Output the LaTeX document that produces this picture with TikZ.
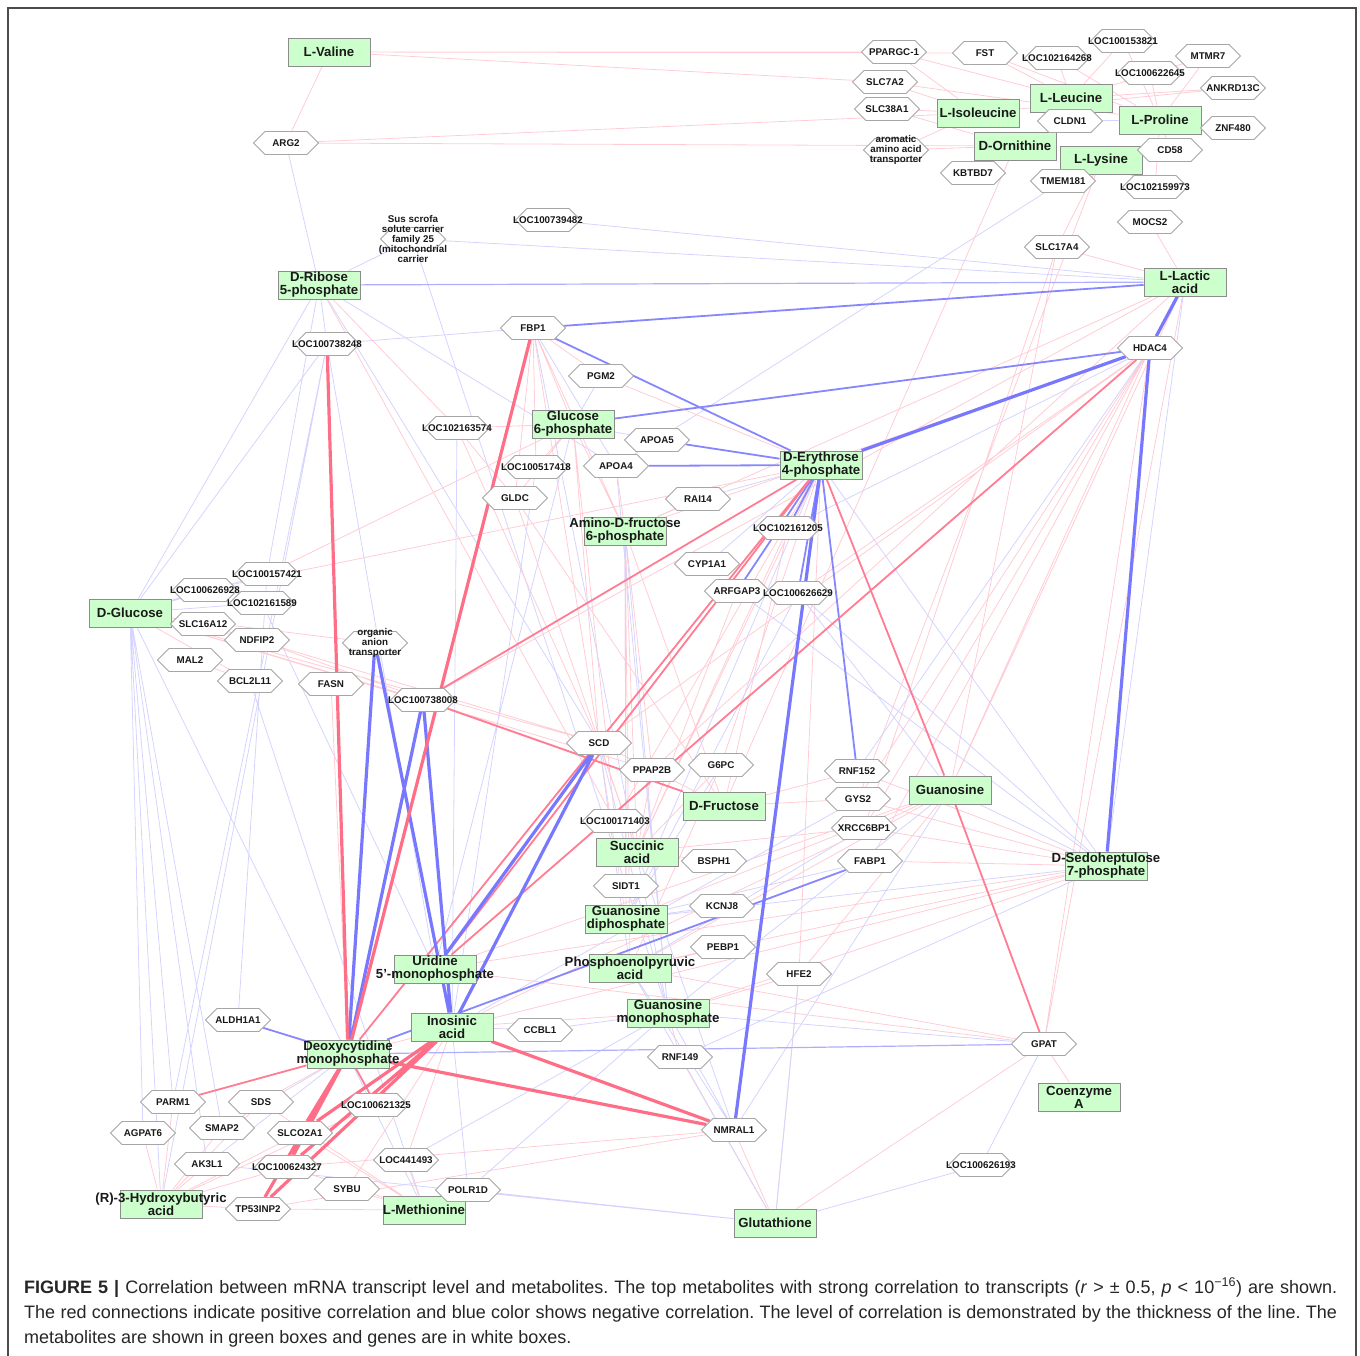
\documentclass[tikz,border=0pt]{standalone}
\usepackage{fontspec}
\setmainfont{Liberation Sans}
\usetikzlibrary{shapes.symbols,backgrounds}
\frenchspacing

\definecolor{posline}{RGB}{255,110,135}
\definecolor{negline}{RGB}{120,120,255}
\definecolor{metfill}{RGB}{204,255,204}

\tikzset{
  met/.style={draw=black!45, fill=metfill, line width=.9pt, minimum width=82pt, minimum height=28pt, inner sep=0pt, label={[mettext]center:#1}},
  mettext/.style={align=center, font=\fontsize{13.2}{13}\selectfont\bfseries, text=black!90, inner sep=0pt},
  gene/.style={signal, signal to=east and west, draw=black!35, fill=white, line width=.8pt, minimum width=65pt, minimum height=23pt, inner sep=0pt, label={[genetext]center:#1}},
  genetext/.style={align=center, font=\fontsize{9.8}{10}\selectfont\bfseries, text=black!90, inner sep=0pt},
  pos1/.style={posline!35, line width=.8pt},
  pos2/.style={posline!90, line width=1.8pt},
  pos3/.style={posline, line width=3.2pt},
  neg1/.style={negline!32, line width=.8pt},
  neg2/.style={negline!90, line width=1.8pt},
  neg3/.style={negline, line width=3.2pt},
  capline/.style={anchor=base west, inner sep=0pt, text=black!85, font=\fontsize{18}{20}\selectfont}
}

\begin{document}
\begin{tikzpicture}[x=1pt,y=-1pt]
\useasboundingbox (0,0) rectangle (1360,1355);
\draw[black!70, line width=1.3pt] (8,1370) -- (8,8) -- (1356,8) -- (1356,1370);

% metabolites
\node[met={L-Valine}] (val) at (329,52) {};
\node[met={L-Isoleucine}] (ile) at (978,113) {};
\node[met={L-Leucine}] (leu) at (1071,98) {};
\node[met={L-Proline}] (pro) at (1160,120) {};
\node[met={D-Ornithine}] (orn) at (1015,146) {};
\node[met={L-Lysine}] (lys) at (1101,160) {};
\node[met={L-Lactic\\acid}] (lac) at (1185,282) {};
\node[met={D-Ribose\\5-phosphate}] (r5p) at (319,285) {};
\node[met={Glucose\\6-phosphate}] (g6p) at (573,424) {};
\node[met={D-Erythrose\\4-phosphate}] (e4p) at (821,465) {};
\node[met={Amino-D-fructose\\6-phosphate}] (af6p) at (625,531) {};
\node[met={D-Glucose}] (glc) at (130,613) {};
\node[met={D-Fructose}] (fru) at (724,806) {};
\node[met={Guanosine}] (guo) at (950,790) {};
\node[met={Succinic\\acid}] (suc) at (637,852) {};
\node[met={D-Sedoheptulose\\7-phosphate}] (s7p) at (1106,866) {};
\node[met={Guanosine\\diphosphate}] (gdp) at (626,919) {};
\node[met={Uridine\\5'-monophosphate}] (ump) at (435,969) {};
\node[met={Phosphoenolpyruvic\\acid}] (pep) at (630,968) {};
\node[met={Guanosine\\monophosphate}] (gmp) at (668,1013) {};
\node[met={Inosinic\\acid}] (imp) at (452,1027) {};
\node[met={Deoxycytidine\\monophosphate}] (dcmp) at (348,1054) {};
\node[met={Coenzyme\\A}] (coa) at (1079,1097) {};
\node[met={(R)-3-Hydroxybutyric\\acid}] (hba) at (161,1204) {};
\node[met={L-Methionine}] (met) at (424,1210) {};
\node[met={Glutathione}] (gsh) at (775,1223) {};

% genes
\node[gene={PPARGC-1}] (ppargc) at (894,52) {};
\node[gene={FST}] (fst) at (985,53) {};
\node[gene={LOC102164268}] (loc268) at (1057,58) {};
\node[gene={LOC100153821}] (loc821) at (1123,41) {};
\node[gene={MTMR7}] (mtmr7) at (1208,56) {};
\node[gene={LOC100622645}] (loc645) at (1150,73) {};
\node[gene={SLC7A2}] (slc7a2) at (885,82) {};
\node[gene={ANKRD13C}] (ankrd) at (1233,88) {};
\node[gene={SLC38A1}] (slc38a1) at (887,109) {};
\node[gene={CLDN1}] (cldn1) at (1070,121) {};
\node[gene={ZNF480}] (znf480) at (1233,128) {};
\node[gene={aromatic\\amino acid\\transporter}] (aat) at (896,150) {};
\node[gene={CD58}] (cd58) at (1170,150) {};
\node[gene={KBTBD7}] (kbtbd7) at (973,173) {};
\node[gene={TMEM181}] (tmem181) at (1063,181) {};
\node[gene={LOC102159973}] (loc973) at (1155,187) {};
\node[gene={MOCS2}] (mocs2) at (1150,222) {};
\node[gene={SLC17A4}] (slc17a4) at (1057,247) {};
\node[gene={ARG2}] (arg2) at (286,143) {};
\node[gene={Sus scrofa\\solute carrier\\family 25\\(mitochondrial\\carrier}] (sus) at (413,239) {};
\node[gene={LOC100739482}] (loc482) at (548,220) {};
\node[gene={HDAC4}] (hdac4) at (1150,348) {};
\node[gene={FBP1}] (fbp1) at (533,328) {};
\node[gene={LOC100738248}] (loc248) at (327,344) {};
\node[gene={PGM2}] (pgm2) at (601,376) {};
\node[gene={LOC102163574}] (loc574) at (457,428) {};
\node[gene={APOA5}] (apoa5) at (657,440) {};
\node[gene={APOA4}] (apoa4) at (616,466) {};
\node[gene={LOC100517418}] (loc418) at (536,467) {};
\node[gene={GLDC}] (gldc) at (515,498) {};
\node[gene={RAI14}] (rai14) at (698,499) {};
\node[gene={LOC102161205}] (loc205) at (788,528) {};
\node[gene={CYP1A1}] (cyp1a1) at (707,564) {};
\node[gene={ARFGAP3}] (arfgap3) at (737,591) {};
\node[gene={LOC100626629}] (loc629) at (798,593) {};
\node[gene={LOC100157421}] (loc421) at (267,574) {};
\node[gene={LOC100626928}] (loc928) at (205,590) {};
\node[gene={LOC102161589}] (loc589) at (262,603) {};
\node[gene={SLC16A12}] (slc16a12) at (203,624) {};
\node[gene={NDFIP2}] (ndfip2) at (257,640) {};
\node[gene={MAL2}] (mal2) at (190,660) {};
\node[gene={BCL2L11}] (bcl2l11) at (250,681) {};
\node[gene={organic\\anion\\transporter}] (oat) at (375,643) {};
\node[gene={FASN}] (fasn) at (331,684) {};
\node[gene={LOC100738008}] (loc008) at (423,700) {};
\node[gene={SCD}] (scd) at (599,743) {};
\node[gene={PPAP2B}] (ppap2b) at (652,770) {};
\node[gene={G6PC}] (g6pc) at (721,765) {};
\node[gene={RNF152}] (rnf152) at (857,771) {};
\node[gene={GYS2}] (gys2) at (858,799) {};
\node[gene={XRCC6BP1}] (xrcc) at (864,828) {};
\node[gene={LOC100171403}] (loc403) at (615,821) {};
\node[gene={BSPH1}] (bsph1) at (714,861) {};
\node[gene={FABP1}] (fabp1) at (870,861) {};
\node[gene={SIDT1}] (sidt1) at (626,886) {};
\node[gene={KCNJ8}] (kcnj8) at (722,906) {};
\node[gene={PEBP1}] (pebp1) at (723,947) {};
\node[gene={HFE2}] (hfe2) at (799,974) {};
\node[gene={ALDH1A1}] (aldh1a1) at (238,1020) {};
\node[gene={CCBL1}] (ccbl1) at (540,1030) {};
\node[gene={GPAT}] (gpat) at (1044,1044) {};
\node[gene={RNF149}] (rnf149) at (680,1057) {};
\node[gene={PARM1}] (parm1) at (173,1102) {};
\node[gene={SDS}] (sds) at (261,1102) {};
\node[gene={LOC100621325}] (loc325) at (376,1105) {};
\node[gene={AGPAT6}] (agpat6) at (143,1133) {};
\node[gene={SMAP2}] (smap2) at (222,1128) {};
\node[gene={SLCO2A1}] (slco2a1) at (300,1133) {};
\node[gene={NMRAL1}] (nmral1) at (734,1130) {};
\node[gene={AK3L1}] (ak3l1) at (207,1164) {};
\node[gene={LOC441493}] (loc493) at (406,1160) {};
\node[gene={LOC100624327}] (loc327) at (287,1167) {};
\node[gene={LOC100626193}] (loc193) at (981,1165) {};
\node[gene={SYBU}] (sybu) at (347,1189) {};
\node[gene={POLR1D}] (polr1d) at (468,1190) {};
\node[gene={TP53INP2}] (tp53inp2) at (258,1209) {};

% correlations
\begin{scope}[on background layer]
% weak
\draw[pos1] (val)--(ppargc) (val)--(fst) (val)--(slc7a2) (val)--(arg2) (arg2)--(orn) (arg2)--(ile) (aat)--(orn) (aat)--(ile)
  (ppargc)--(ile) (ppargc)--(leu) (slc7a2)--(ile) (slc7a2)--(pro) (slc38a1)--(ile) (slc38a1)--(orn) (fst)--(leu) (fst)--(pro)
  (loc268)--(pro) (loc268)--(leu) (loc821)--(pro) (loc821)--(leu) (mtmr7)--(pro) (mtmr7)--(leu) (loc645)--(pro) (ankrd)--(leu)
  (ankrd)--(ile) (znf480)--(pro) (cd58)--(pro) (kbtbd7)--(orn) (tmem181)--(lys) (loc973)--(lys) (loc973)--(pro) (mocs2)--(lac)
  (slc17a4)--(lac) (slc17a4)--(lys) (orn)--(fru) (lys)--(gys2) (slc17a4)--(xrcc) (slc17a4)--(guo);
\draw[neg1] (cldn1)--(pro) (arg2)--(r5p) (sus)--(r5p) (sus)--(lac) (loc482)--(lac) (tmem181)--(apoa4) (sus)--(gmp) (loc248)--(fbp1);
\draw[pos1] (hdac4)--(guo) (hdac4)--(gys2) (hdac4)--(xrcc) (hdac4)--(gpat) (hdac4)--(fabp1) (hdac4)--(af6p) (hdac4)--(scd)
  (lac)--(gpat) (lac)--(guo) (lac)--(af6p) (lac)--(loc008) (lac)--(ppap2b) (hdac4)--(loc629);
\draw[neg1] (lac)--(s7p) (hdac4)--(rnf152) (hdac4)--(loc205);
\draw[neg1] (glc)--(loc248) (glc)--(r5p) (glc)--(loc421) (glc)--(loc928) (glc)--(loc589) (glc)--(hba) (glc)--(parm1) (glc)--(agpat6)
  (glc)--(ak3l1) (glc)--(smap2) (r5p)--(loc248) (r5p)--(loc421) (r5p)--(scd) (r5p)--(apoa4) (loc248)--(parm1) (loc248)--(hba)
  (loc248)--(ump) (bcl2l11)--(met) (loc421)--(aldh1a1) (loc589)--(ump);
\draw[pos1] (glc)--(oat) (glc)--(loc008) (glc)--(scd) (glc)--(ppap2b) (glc)--(ndfip2) (glc)--(bcl2l11) (slc16a12)--(scd)
  (ndfip2)--(fru) (mal2)--(bcl2l11) (fasn)--(dcmp) (r5p)--(loc574) (r5p)--(loc403) (loc928)--(e4p) (loc421)--(g6p);
\draw[pos1] (fbp1)--(pgm2) (fbp1)--(g6p) (fbp1)--(af6p) (fbp1)--(scd) (fbp1)--(gldc) (fbp1)--(loc418) (pgm2)--(e4p)
  (g6p)--(loc418) (g6p)--(gldc) (g6p)--(af6p) (g6p)--(scd) (g6p)--(loc403) (loc574)--(g6p) (loc574)--(gldc) (loc574)--(scd)
  (gldc)--(fru) (gldc)--(suc) (apoa4)--(af6p) (rai14)--(af6p) (e4p)--(g6pc) (e4p)--(loc403) (e4p)--(suc) (e4p)--(hfe2)
  (af6p)--(suc) (af6p)--(gdp) (af6p)--(pep) (af6p)--(fru) (af6p)--(ppap2b) (loc205)--(fru) (loc205)--(suc) (arfgap3)--(suc);
\draw[neg1] (fbp1)--(apoa4) (pgm2)--(g6p) (g6p)--(apoa5) (g6p)--(ump) (loc574)--(imp) (apoa4)--(gmp) (rai14)--(e4p)
  (cyp1a1)--(e4p) (e4p)--(s7p) (e4p)--(gdp) (af6p)--(gmp) (af6p)--(sidt1) (loc629)--(s7p) (arfgap3)--(s7p) (loc629)--(gdp)
  (loc629)--(guo) (fbp1)--(gmp) (loc418)--(imp);
\draw[pos1] (scd)--(suc) (scd)--(gdp) (scd)--(fru) (ppap2b)--(suc) (g6pc)--(suc) (g6pc)--(pep) (rnf152)--(fru) (gys2)--(fru)
  (xrcc)--(suc) (bsph1)--(suc) (pebp1)--(pep) (hfe2)--(gmp) (hfe2)--(guo) (guo)--(gdp) (guo)--(pep) (guo)--(ump)
  (s7p)--(pep) (s7p)--(gmp) (s7p)--(ump) (fabp1)--(s7p) (xrcc)--(s7p) (gys2)--(s7p) (rnf152)--(s7p) (s7p)--(dcmp);
\draw[neg1] (scd)--(pep) (scd)--(gmp) (g6pc)--(gdp) (fabp1)--(gdp) (kcnj8)--(gdp) (guo)--(gmp) (guo)--(nmral1) (s7p)--(gdp)
  (s7p)--(guo) (s7p)--(rnf149) (gys2)--(imp) (xrcc)--(pep);
\draw[pos1] (gmp)--(rnf149) (gmp)--(imp) (nmral1)--(gsh) (rnf149)--(gsh) (hfe2)--(gsh) (gpat)--(gsh) (gpat)--(coa)
  (met)--(sybu) (met)--(polr1d) (met)--(loc493) (met)--(tp53inp2) (met)--(slco2a1) (met)--(loc327) (met)--(sds)
  (hba)--(parm1) (hba)--(agpat6) (hba)--(smap2) (hba)--(ak3l1) (hba)--(sds) (hba)--(tp53inp2) (hba)--(loc327) (hba)--(slco2a1)
  (hba)--(loc325) (dcmp)--(sds) (imp)--(sybu) (imp)--(loc493) (nmral1)--(tp53inp2) (nmral1)--(loc327) (guo)--(imp)
  (gpat)--(pep) (gpat)--(ump);
\draw[neg1] (gmp)--(nmral1) (gmp)--(ccbl1) (gmp)--(gpat) (imp)--(ccbl1) (loc193)--(gsh) (loc193)--(gpat) (gsh)--(ak3l1)
  (met)--(glc) (dcmp)--(smap2) (dcmp)--(ak3l1) (imp)--(polr1d) (polr1d)--(gmp) (polr1d)--(gsh) (loc493)--(gmp) (nmral1)--(pep)
  (gsh)--(pep) (gsh)--(hfe2) (nmral1)--(suc);
% moderate
\draw[neg2] (e4p)--(arfgap3) (e4p)--(loc629) (e4p)--(rnf152) (e4p)--(loc205) (fbp1)--(e4p) (g6p)--(hdac4) (apoa5)--(e4p)
  (apoa4)--(e4p) (fbp1)--(lac) (aldh1a1)--(dcmp) (fabp1)--(dcmp);
\draw[negline!60, line width=1.2pt] (dcmp)--(gpat) (r5p)--(lac);
\draw[pos2] (loc008)--(e4p) (loc008)--(fru) (e4p)--(ump) (e4p)--(guo) (guo)--(gpat) (dcmp)--(parm1) (dcmp)--(loc325)
  (hdac4)--(ump) (e4p)--(dcmp);
% strong
\draw[neg3] (hdac4)--(e4p) (hdac4)--(lac) (hdac4)--(s7p) (e4p)--(nmral1) (oat)--(dcmp) (oat)--(imp) (loc008)--(dcmp)
  (loc008)--(imp) (scd)--(ump) (scd)--(imp);
\draw[pos3] (loc248)--(dcmp) (fbp1)--(dcmp) (dcmp)--(nmral1) (imp)--(nmral1) (dcmp)--(slco2a1) (dcmp)--(loc327)
  (imp)--(slco2a1) (imp)--(loc327) (imp)--(tp53inp2) (dcmp)--(tp53inp2);
\end{scope}

% caption
\node[capline] (cap1) at (24,1293) {\makebox[1313pt][s]{\textbf{FIGURE 5 |} Correlation between mRNA transcript level and metabolites. The top metabolites with strong correlation to transcripts (\textit{r} > ± 0.5, \textit{p} < 10\textsuperscript{−16}) are shown.}};
\node[capline] (cap2) at (24,1318) {\makebox[1313pt][s]{The red connections indicate positive correlation and blue color shows negative correlation. The level of correlation is demonstrated by the thickness of the line. The}};
\node[capline] (cap3) at (24,1343) {metabolites are shown in green boxes and genes are in white boxes.};
\end{tikzpicture}
\end{document}
